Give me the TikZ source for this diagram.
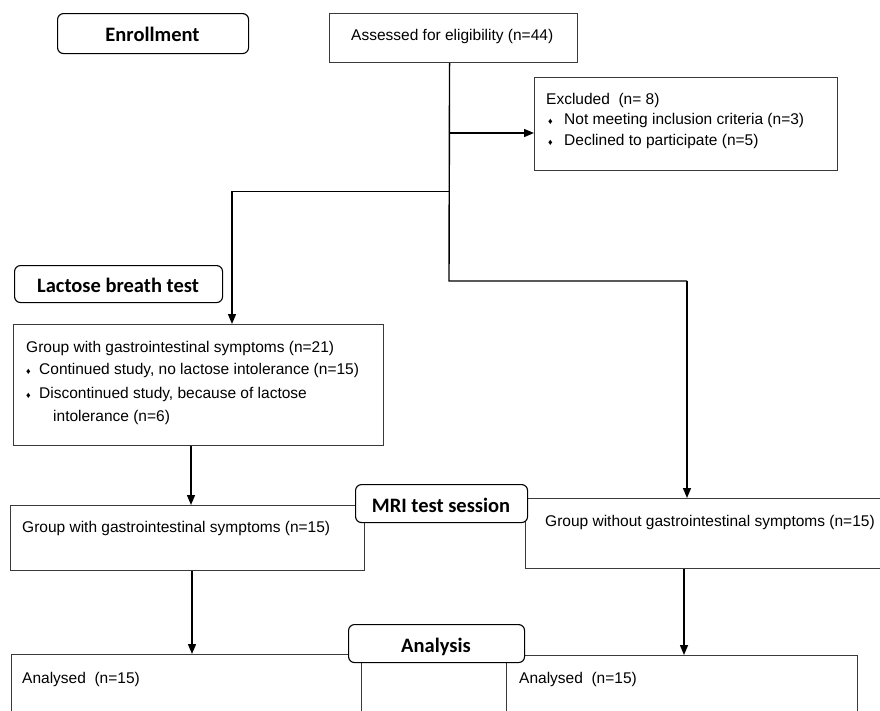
\documentclass[tikz,border=0pt]{standalone}
\usepackage{fontspec}
\setmainfont{Liberation Sans}
\newfontfamily\headfont{Carlito}
\usetikzlibrary{arrows.meta}
\definecolor{boxgray}{HTML}{3A3A3A}
\tikzset{
  box/.style={draw=boxgray, line width=1.1pt, fill=white, inner sep=0pt, anchor=north west},
  headbox/.style={box, rounded corners=6pt, draw=black},
  body/.style={inner sep=0pt, anchor=base west, font=\fontsize{15.5}{18}\selectfont},
  head/.style={inner sep=0pt, anchor=base, font=\headfont\bfseries\fontsize{20.5}{24}\selectfont},
  conn/.style={draw=black, line width=1.4pt},
  arr/.style={conn, -{Triangle[length=10pt,width=8pt]}},
}
\newcommand{\bul}{{\fontsize{9}{9}\selectfont ♦}}
\begin{document}
\begin{tikzpicture}[x=1pt,y=-1pt]
\useasboundingbox (0,0) rectangle (880,710);

% plain boxes
\node[box, minimum width=248, minimum height=49] (asses) at (329,13) {};
\node[box, minimum width=303, minimum height=93] (excl) at (534,77) {};
\node[box, minimum width=370, minimum height=121] (grpA) at (13,324) {};
\node[box, minimum width=354, minimum height=65] (grpB) at (10,505) {};
\node[box, minimum width=365, minimum height=70] (grpR) at (525,498) {};
\node[box, minimum width=350, minimum height=70] (anL) at (11,654) {};
\node[box, minimum width=351, minimum height=70] (anR) at (506,655) {};

% heading boxes
\node[headbox, minimum width=191, minimum height=40] (enrol) at (57,13) {};
\node[headbox, minimum width=208, minimum height=37] (lact) at (14,265) {};
\node[headbox, minimum width=172, minimum height=38] (mri) at (355,484) {};
\node[headbox, minimum width=176, minimum height=38] (anal) at (348,624) {};

% heading texts
\node[head] (tenrol) at (152.5,41) {Enrollment};
\node[head] (tlact) at (118,292) {Lactose breath test};
\node[head] (tmri) at (441,512) {MRI test session};
\node[head] (tanal) at (436,652) {Analysis};

% body texts
\node[body] (tasses) at (351,40) {Assessed for eligibility (n=44)};
\node[body] (tex1) at (546,104) {Excluded~~(n=~8)};
\node[body] (tex2b) at (548,124) {\bul};
\node[body] (tex2) at (564,124) {Not meeting inclusion criteria (n=3)};
\node[body] (tex3b) at (548,145) {\bul};
\node[body] (tex3) at (564,145) {Declined to participate (n=5)};

\node[body] (tg1) at (26,352) {Group with gastrointestinal symptoms (n=21)};
\node[body] (tg2b) at (26,374) {\bul};
\node[body] (tg2) at (39,374) {Continued study, no lactose intolerance (n=15)};
\node[body] (tg3b) at (26,398) {\bul};
\node[body] (tg3) at (39,398) {Discontinued study, because of lactose};
\node[body] (tg4) at (53,421) {intolerance (n=6)};

\node[body] (tgb) at (22,532) {Group with gastrointestinal symptoms (n=15)};
\node[body] (tgr) at (545,526) {Group without gastrointestinal symptoms (n=15)};
\node[body] (tanl) at (22,683) {Analysed~~(n=15)};
\node[body] (tanr) at (519,683) {Analysed~~(n=15)};

% connectors
\coordinate (t0) at ([xshift=-4pt]asses.south);
\coordinate (j1) at (449,133);
\coordinate (j2) at (449,191.5);
\coordinate (j2l) at (232,191.5);
\coordinate (k) at (449,281);
\coordinate (kr) at (687,281);
\coordinate (c1) at (191,0);
\coordinate (c2) at (192,0);
\coordinate (c3) at (684,0);

\draw[conn] (t0) -- (k) -- (kr);
\draw[arr] (kr) -- (kr |- grpR.north);
\draw[arr] (j1) -- (j1 -| excl.west);
\draw[arr] (j2) -- (j2l) -- (j2l |- grpA.north);
\draw[arr] (grpA.south -| c1) -- (grpB.north -| c1);
\draw[arr] (grpB.south -| c2) -- (anL.north -| c2);
\draw[arr] (grpR.south -| c3) -- (anR.north -| c3);
\end{tikzpicture}
\end{document}
